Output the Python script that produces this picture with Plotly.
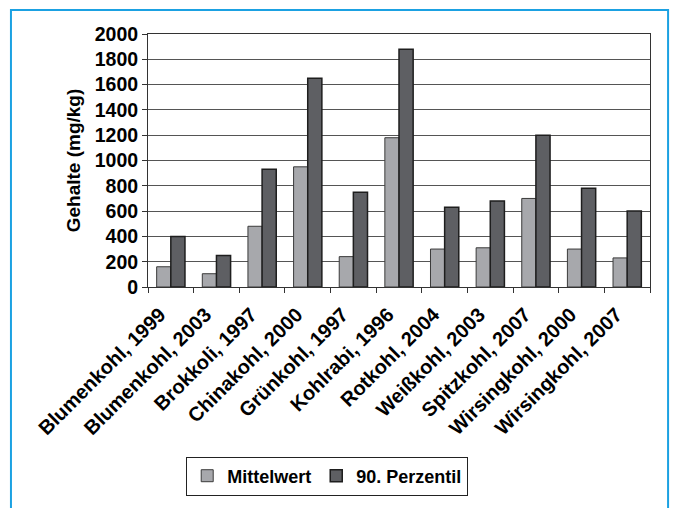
import plotly.graph_objects as go

# Gemüsesorten / Erhebungsjahr
kategorien = [
    "Blumenkohl, 1999", "Blumenkohl, 2003", "Brokkoli, 1997", "Chinakohl, 2000",
    "Grünkohl, 1997", "Kohlrabi, 1996", "Rotkohl, 2004", "Weißkohl, 2003",
    "Spitzkohl, 2007", "Wirsingkohl, 2000", "Wirsingkohl, 2007",
]
mittelwert = [160, 105, 480, 950, 240, 1180, 300, 310, 700, 300, 230]
perzentil_90 = [400, 250, 930, 1650, 750, 1880, 630, 680, 1200, 780, 600]
y_ticks = [0, 200, 400, 600, 800, 1000, 1200, 1400, 1600, 1800, 2000]

FONT = "Liberation Sans, Arial, sans-serif"

fig = go.Figure()
fig.add_trace(go.Bar(
    x=kategorien, y=mittelwert, name="Mittelwert",
    marker=dict(color="#a7a8ac", line=dict(color="#3a3a3a", width=1)),
))
fig.add_trace(go.Bar(
    x=kategorien, y=perzentil_90, name="90. Perzentil",
    marker=dict(color="#5e5f63", line=dict(color="#1e1e1e", width=1.5)),
))

# die Seite hat 8px Rand im body -> Figur etwas kleiner
fig.update_layout(
    width=670, height=500,
    margin=dict(l=140, r=28, t=26, b=212),
    paper_bgcolor="white", plot_bgcolor="white",
    font=dict(family=FONT, size=19.5, color="black", weight="bold"),
    barmode="group", bargap=0.38, bargroupgap=0,
    showlegend=True,
    legend=dict(
        orientation="h", x=0.357, xanchor="center", y=-0.67, yanchor="top",
        bordercolor="#222", borderwidth=1, bgcolor="white",
        font=dict(size=18, weight="bold"), itemwidth=30, tracegroupgap=0,
    ),
    xaxis=dict(
        tickangle=-45, tickfont=dict(size=20, weight="bold"), automargin=False,
        ticklabelshift=-11, ticklabelstandoff=7,
        showline=True, linecolor="#333", linewidth=1, mirror=True,
        ticks="outside", ticklen=5, tickcolor="#333", tickson="boundaries",
        showgrid=False,
    ),
    yaxis=dict(
        range=[0, 2000], tickvals=y_ticks, tickfont=dict(size=19.5, weight="bold"),
        automargin=False,
        title=dict(text="Gehalte (mg/kg)", font=dict(size=19, weight="bold"), standoff=9),
        showline=True, linecolor="#333", linewidth=1, mirror=True,
        ticks="outside", ticklen=5, tickcolor="#333",
        showgrid=True, gridcolor="#555", gridwidth=1,
    ),
    shapes=[dict(
        type="rect", xref="paper", yref="paper",
        x0=-0.273, x1=1.036, y0=-0.95, y1=1.095,
        line=dict(color="#1ba1e2", width=2), layer="below",
    )],
)

fig.write_html("out.html")
